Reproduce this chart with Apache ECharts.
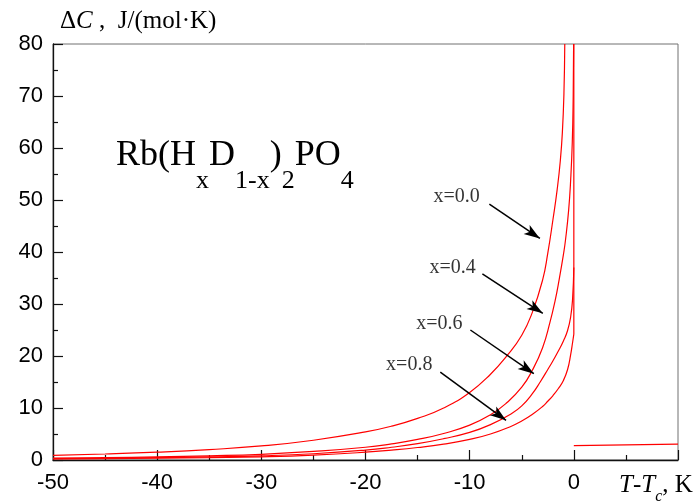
<!DOCTYPE html>
<html>
<head>
<meta charset="utf-8">
<title>Rb(HxD1-x)2PO4 excess heat capacity</title>
<script src="https://cdn.jsdelivr.net/npm/echarts/dist/echarts.min.js"></script>
<style>
  html, body { margin: 0; padding: 0; background: #fff; }
  #chart { width: 698px; height: 503px; }
</style>
</head>
<body>
<div id="chart"></div>
<script>
// Excess heat capacity ΔC (J/(mol·K)) versus T - Tc (K), one curve per deuteration level
var compositions = ['x=0.0', 'x=0.4', 'x=0.6', 'x=0.8'];

var curveX00 = [
  [-50, 0.9], [-45, 1.15], [-40, 1.5], [-35, 2.0], [-30, 2.7], [-25, 3.8],
  [-20, 5.4], [-17.5, 6.5], [-15, 8.0], [-12.5, 10.0], [-10, 13.0], [-8, 16.5],
  [-6.4, 20.1], [-5, 24.0], [-4, 28.3], [-3, 34.6], [-2.5, 39.8], [-2, 46.3],
  [-1.6, 52], [-1.3, 57.5], [-1.1, 63], [-0.95, 70.5], [-0.87, 80]
];
var curveX04 = [
  [-50, 0.35], [-45, 0.45], [-40, 0.6], [-35, 0.8], [-30, 1.1], [-25, 1.65],
  [-20, 2.45], [-17.5, 3.1], [-15, 3.95], [-12.5, 5.1], [-10, 6.7], [-8, 8.7],
  [-6.5, 10.9], [-5, 14.0], [-4, 17.2], [-3, 21.6], [-2.3, 26.4], [-1.8, 30.6],
  [-1.4, 34.8], [-1, 39.5], [-0.8, 42.3], [-0.5, 48], [-0.3, 54], [-0.15, 61],
  [-0.06, 70], [-0.02, 80]
];
var curveX06 = [
  [-50, 0.25], [-45, 0.33], [-40, 0.45], [-35, 0.6], [-30, 0.8], [-25, 1.2],
  [-20, 1.9], [-17.5, 2.45], [-15, 3.15], [-12.5, 4.1], [-10, 5.3], [-8, 6.8],
  [-6, 8.9], [-5, 10.4], [-4, 12.7], [-3.2, 15.1], [-2.5, 17.4], [-2, 19.1],
  [-1.5, 20.9], [-1, 22.9], [-0.6, 24.9], [-0.3, 27.6], [-0.12, 31], [0, 37]
];
var curveX08 = [
  [-50, 0.2], [-45, 0.27], [-40, 0.35], [-35, 0.46], [-30, 0.62], [-25, 0.95],
  [-20, 1.5], [-17.5, 1.9], [-15, 2.4], [-12.5, 3.05], [-10, 3.95], [-8, 5.0],
  [-6, 6.5], [-5, 7.5], [-4, 8.75], [-3, 10.3], [-2.5, 11.3], [-2, 12.4],
  [-1.5, 13.7], [-1, 15.3], [-0.6, 17.4], [-0.3, 20.3], [-0.12, 22.6], [0, 24.2]
];
// jump of the curves at T = Tc
var jumpAtTc = [[0, 24.2], [0, 80]];
// paraelectric phase above Tc
var aboveTc = [[0, 2.75], [10, 3.05]];

var xTicks = [-50, -40, -30, -20, -10, 0];

var serif = '"Liberation Serif", "Times New Roman", serif';
var sans = '"Liberation Sans", Arial, sans-serif';
var red = '#ff0000';

function curve(name, data) {
  return {
    name: name,
    type: 'line',
    data: data,
    showSymbol: false,
    symbol: 'none',
    smooth: 0.5,
    lineStyle: { color: red, width: 1.2 },
    silent: true,
    z: 3
  };
}

// annotation arrows, in data coordinates: [tail, arrowhead]
var arrowCoords = [
  [[-8.11, 49.2], [-3.26, 42.6]],
  [[-8.78, 35.8], [-2.98, 28.2]],
  [[-9.93, 25.0], [-3.84, 16.6]],
  [[-12.82, 16.9], [-6.51, 7.63]]
];
var labelAnchors = [[-11.25, 50.6], [-11.63, 36.9], [-12.9, 26.2], [-15.8, 18.3]];

var chart = echarts.init(document.getElementById('chart'), null, { renderer: 'canvas' });

var txt = { fontFamily: serif, fontWeight: 'normal', color: '#000' };
function rs(extra) { return Object.assign({}, txt, extra); }

var option = {
  animation: false,
  backgroundColor: '#fff',
  grid: {
    left: 53, right: 20, top: 44, bottom: 43,
    show: true, borderColor: '#707070', borderWidth: 1
  },
  title: [
    {
      text: '{r|Δ}{i|C}{r| ,  J/(mol·K)}',
      left: 60, top: 8, padding: 0,
      textStyle: {
        fontWeight: 'normal',
        rich: {
          r: rs({ fontSize: 25, lineHeight: 27 }),
          i: rs({ fontSize: 25, lineHeight: 27, fontStyle: 'italic' })
        }
      }
    },
    {
      text: '{m|Rb(H}{s|x}{m|D}{s|1-x}{m|)}{s|2}{m|PO}{s|4}',
      left: 116, top: 138, padding: 0,
      textStyle: {
        fontWeight: 'normal',
        rich: {
          m: rs({ fontSize: 36, lineHeight: 40, verticalAlign: 'top' }),
          s: rs({ fontSize: 26, lineHeight: 26, verticalAlign: 'top', padding: [30, 0, 0, 0] })
        }
      }
    },
    {
      text: '{i|T}{r|-}{i|T}{s|c}{r|, K}',
      left: 619, top: 473, padding: 0,
      textStyle: {
        fontWeight: 'normal',
        rich: {
          r: rs({ fontSize: 25, lineHeight: 25, verticalAlign: 'top' }),
          i: rs({ fontSize: 25, lineHeight: 25, verticalAlign: 'top', fontStyle: 'italic' }),
          s: rs({ fontSize: 16, lineHeight: 16, verticalAlign: 'top', fontStyle: 'italic', padding: [16, 0, 0, 0] })
        }
      }
    }
  ],
  xAxis: {
    type: 'value',
    min: -50, max: 10, interval: 10,
    axisLine: { show: true, onZero: false, lineStyle: { color: '#111', width: 1.3 } },
    axisTick: { show: true, inside: true, length: 10, lineStyle: { color: '#111', width: 1.2 } },
    minorTick: { show: true, splitNumber: 2, length: 5, lineStyle: { color: '#111', width: 1.2 } },
    splitLine: { show: false },
    axisLabel: {
      margin: 12,
      fontFamily: sans, fontSize: 22, color: '#000',
      formatter: function (v) { return xTicks.indexOf(v) >= 0 ? String(v) : ''; }
    }
  },
  yAxis: {
    type: 'value',
    min: 0, max: 80, interval: 10,
    axisLine: { show: true, onZero: false, lineStyle: { color: '#111', width: 1.3 } },
    axisTick: { show: true, inside: true, length: 10, lineStyle: { color: '#111', width: 1.2 } },
    minorTick: { show: true, splitNumber: 2, length: 5, lineStyle: { color: '#111', width: 1.2 } },
    splitLine: { show: false },
    axisLabel: { margin: 10, fontFamily: sans, fontSize: 22, color: '#000' }
  },
  series: [
    curve(compositions[0], curveX00),
    curve(compositions[1], curveX04),
    curve(compositions[2], curveX06),
    curve(compositions[3], curveX08),
    {
      name: 'Tc', type: 'line', data: jumpAtTc, showSymbol: false, symbol: 'none',
      lineStyle: { color: red, width: 1.2 }, silent: true, z: 3
    },
    {
      name: 'T > Tc', type: 'line', data: aboveTc, showSymbol: false, symbol: 'none',
      lineStyle: { color: red, width: 1.2 }, silent: true, z: 3
    },
    {
      name: 'notes',
      type: 'scatter',
      symbolSize: 0,
      silent: true,
      z: 5,
      data: labelAnchors.map(function (p, i) { return { name: compositions[i], value: p }; }),
      label: {
        show: true, position: 'inside', formatter: '{b}',
        fontFamily: serif, fontSize: 20, color: '#000'
      },
      markLine: {
        silent: true,
        animation: false,
        symbol: ['none', 'arrow'],
        label: { show: false },
        lineStyle: { color: '#000', width: 1.5, type: 'solid' },
        emphasis: { disabled: true },
        data: arrowCoords.map(function (a) {
          return [
            { coord: a[0], symbol: 'none' },
            { coord: a[1], symbol: 'arrow', symbolSize: [8, 16] }
          ];
        })
      }
    }
  ]
};

chart.setOption(option);
</script>
</body>
</html>
